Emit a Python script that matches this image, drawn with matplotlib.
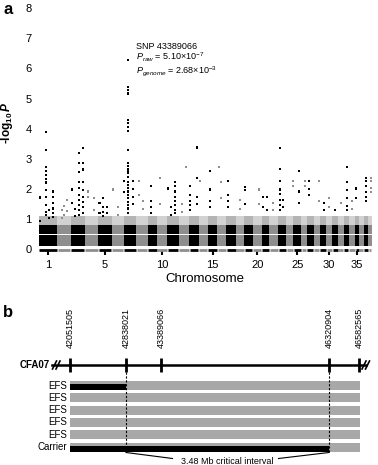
import numpy as np
import matplotlib
matplotlib.use('Agg')
import matplotlib.pyplot as plt

plt.rcParams['font.family'] = ['Liberation Sans', 'DejaVu Sans']
plt.rcParams['mathtext.fontset'] = 'custom'
plt.rcParams['mathtext.rm'] = 'Liberation Sans'
plt.rcParams['mathtext.it'] = 'Liberation Sans:italic'
plt.rcParams['mathtext.bf'] = 'Liberation Sans:bold'
plt.rcParams['mathtext.bfit'] = 'Liberation Sans:bold:italic'

#
# Data
#

## CFA1-38 lengths (Mb)
chrom_len = [125.6, 88.4, 94.7, 91.5, 92.0, 80.8, 84.0, 77.3, 61.3, 69.3,
             75.0, 72.5, 63.9, 60.9, 64.7, 59.6, 64.8, 55.8, 58.0, 58.6,
             51.0, 61.4, 53.0, 48.1, 51.7, 39.0, 45.9, 41.9, 41.8, 40.2,
             39.9, 39.0, 33.4, 42.1, 26.5, 30.8, 31.0, 23.9]
chrom_ticks = [1, 5, 10, 15, 20, 25, 30, 35]

## bulk of the SNPs (-log10 P ranges of the dense bands)
dense_band = [(0.12, 0.47), (0.51, 0.81)]
sparse_band = (0.81, 1.12)

## SNP stacks above the bulk: chromosome, position (Mb), -log10 P values
stack_chr = [1, 1, 1, 1, 2, 2, 2, 3, 3, 3,
             3, 4, 4, 5, 5, 5, 6, 6, 7, 7,
             7, 8, 8, 9, 10, 11, 11, 11, 12, 12,
             13, 13, 14, 15, 16, 16, 17, 18, 19, 20,
             21, 21, 22, 23, 23, 24, 25, 26, 27, 28,
             29, 30, 31, 32, 33, 34, 35, 37, 38]
stack_pos = [49, 9, 94, 69, 31, 44, 65, 10, 55, 82,
             30, 23, 65, 9, 30, 59, 8, 41, 25.5, 1,
             61, 19.5, 44, 21, 22, 2.6, 54, 25, 51, 24,
             4, 50, 8.4, 15, 12.7, 24, 9.5, 27, 7, 43,
             8, 36.5, 26, 12, 32, 44, 40, 27, 15, 38,
             28, 20, 20, 20, 19.7, 22, 7, 16.7, 19]
stack_logp = [
    [3.90, 3.30, 2.74, 2.61, 2.47, 2.33, 2.22, 1.97, 1.75, 1.47, 1.25, 1.14],
    [1.72, 0.95],
    [1.92, 1.75, 1.53, 1.36, 1.20, 1.09],
    [1.30, 1.05],
    [1.30, 1.05],
    [1.45, 1.15],
    [1.64, 1.28],
    [1.99, 1.53],
    [3.21, 2.86, 2.58, 2.25, 2.03, 1.80, 1.64, 1.47, 1.31, 1.14],
    [3.35, 2.86, 2.65, 2.25, 1.97, 1.75, 1.58, 1.42, 1.20],
    [1.35, 1.10],
    [1.92, 1.75],
    [1.70, 1.30],
    [1.53, 1.20],
    [1.70, 1.40, 1.25, 1.10],
    [1.40, 1.20],
    [1.99],
    [1.42, 1.15],
    [6.29, 5.37, 5.28, 5.17, 4.29, 4.18, 4.07, 3.93, 3.30, 2.86, 2.76, 2.65,
     2.55, 2.40, 2.25, 2.14, 2.03, 1.92, 1.80, 1.70, 1.58, 1.47, 1.36, 1.20],
    [2.27, 1.90],
    [2.27, 2.00, 1.75, 1.50],
    [2.27, 1.80],
    [1.60, 1.35],
    [2.09, 1.60, 1.40, 1.20],
    [2.37, 1.50],
    [2.02],
    [2.25, 2.09, 1.92, 1.75, 1.60, 1.47, 1.31, 1.20],
    [1.40, 1.15],
    [2.74],
    [1.50, 1.25],
    [2.09, 1.80, 1.60, 1.47, 1.31],
    [3.38, 2.38, 1.75, 1.50],
    [2.27],
    [2.61, 1.99, 1.60, 1.40],
    [2.74],
    [2.25, 1.70],
    [2.27, 1.80, 1.60, 1.40],
    [1.65, 1.35],
    [2.06, 1.97, 1.50],
    [1.99, 1.50],
    [1.73, 1.40],
    [1.73, 1.30],
    [1.55, 1.30],
    [3.37, 2.67, 2.27, 1.99, 1.85, 1.64, 1.47, 1.31],
    [1.64, 1.40],
    [2.27, 2.09],
    [2.61, 1.92, 1.55],
    [2.27, 2.09],
    [2.27, 2.00, 1.80],
    [2.27, 1.60],
    [1.55, 1.30],
    [1.70, 1.40],
    [1.30],
    [1.55],
    [2.74, 2.25, 1.97, 1.70, 1.45, 1.30],
    [1.60, 1.35],
    [2.02, 1.70],
    [2.38, 2.27, 2.10, 1.90, 1.75, 1.60],
    [2.38, 2.27, 2.05, 1.90],
]

## top SNP annotation
top_snp = 'SNP 43389066'
p_raw = r'$P_{raw}$ = 5.10×10$^{-7}$'
p_genome = r'$P_{genome}$ = 2.68×10$^{-3}$'

## haplotypes on CFA07
markers = ['42051505', '42838021', '43389066', '46320904', '46582565']
hap_labels = ['EFS', 'EFS', 'EFS', 'EFS', 'EFS', 'Carrier']
hap_black = [(0, 1), None, None, None, None, (0, 3)]   # marker span of black segment
interval_span = (1, 3)
interval_text = '3.48 Mb critical interval'

#
# Colours / layout
#
black = '#000000'
grey = '#8e8e8e'
bar_grey = '#a8a8a8'
W, H = 378, 465

starts = np.concatenate([[0], np.cumsum(chrom_len)[:-1]])
ends = starts + np.array(chrom_len)
centers = (starts + ends) / 2
is_odd = [(i + 1) % 2 == 1 for i in range(len(chrom_len))]
chr_col = [black if o else grey for o in is_odd]
sparse_col = ['#b4b4b4' if o else '#d2d2d2' for o in is_odd]

fig = plt.figure(figsize=(W/100, H/100), dpi=100)

#
# Panel a
#
ax_top, ax_bot, ax_l, ax_r = 5, 251, 36, 373
ax = fig.add_axes([ax_l/W, 1 - ax_bot/H, (ax_r-ax_l)/W, (ax_bot-ax_top)/H])
ax.set_xlim(-18.2, 2247.6)
ax.set_ylim(-0.05, 8.1)

ax.bar(centers, sparse_band[1] - sparse_band[0], width=chrom_len,
       bottom=sparse_band[0], color=sparse_col, linewidth=0)
for lo, hi in dense_band:
    ax.bar(centers, hi - lo, width=chrom_len, bottom=lo, color=chr_col,
           linewidth=0)
for s, e, c in zip(starts, ends, chr_col):
    ax.plot([s + 3, e - 3], [-0.01, -0.01], color=c, lw=2, clip_on=False,
            solid_capstyle='butt')

sx, sy, sc = [], [], []
for c, p, vals in zip(stack_chr, stack_pos, stack_logp):
    for v in vals:
        sx.append(starts[c-1] + p)
        sy.append(v)
        sc.append(chr_col[c-1])
ax.scatter(sx, sy, s=2.4, marker='s', c=sc, linewidths=0)

for sp in ax.spines.values():
    sp.set_visible(False)
ax.set_yticks(range(9))
ax.tick_params(axis='y', length=0, pad=3, labelsize=8)
ax.set_xticks(centers[[c-1 for c in chrom_ticks]])
ax.set_xticklabels([str(c) for c in chrom_ticks])
ax.tick_params(axis='x', length=3, width=1.5, pad=3.5, labelsize=8)
for t, c in zip(ax.xaxis.get_major_ticks(), chrom_ticks):
    t.tick1line.set_color(chr_col[c-1])
ax.set_xlabel('Chromosome', fontsize=9.5, labelpad=2.5)
ax.set_ylabel(r'-log$_{\mathbf{10}}\,\mathbfit{P}$', fontsize=8.5,
              fontweight='bold')
ax.yaxis.set_label_coords(-0.062, 0.52)

ax.text(654, (249.5 - 41.5) / 30.2, '\n'.join([top_snp, p_raw, p_genome]),
        fontsize=6.5, va='top', linespacing=1.0)

#
# Panel b (schematic, pixel layout)
#
bx = fig.add_axes([0, 0, 1, 180/H])
bx.set_xlim(0, W)
bx.set_ylim(H, H - 180)
bx.axis('off')

marker_x = [70, 126, 161, 329, 359]
line_y = 365
row_top, row_pitch, row_h = 381, 12.3, 9

for m, x in zip(markers, marker_x):
    bx.text(x, 348, m, rotation=90, ha='center', va='bottom', fontsize=6.5)
    bx.plot([x, x], [358, 372], color=black, lw=2, solid_capstyle='butt')
bx.plot([52, 366], [line_y, line_y], color=black, lw=1.8)
for x in [54.5, 58, 364, 367.5]:
    bx.plot([x - 2, x + 2], [line_y + 4, line_y - 4], color=black, lw=1.2)
bx.text(50, line_y, 'CFA07', ha='right', va='center', fontsize=7,
        fontweight='bold')

for i, (lab, blk) in enumerate(zip(hap_labels, hap_black)):
    y0 = row_top + i * row_pitch
    bx.add_patch(plt.Rectangle((marker_x[0], y0), marker_x[-1] + 1 - marker_x[0],
                               row_h, color=bar_grey, lw=0))
    if blk:
        x0, x1 = marker_x[blk[0]], marker_x[blk[1]]
        bx.add_patch(plt.Rectangle((x0, y0 + 3.4), x1 - x0, row_h - 3.4,
                                   color=black, lw=0))
    bx.text(67, y0 + row_h/2, lab, ha='right', va='center', fontsize=7)

i0, i1 = interval_span
bottom = row_top + 5 * row_pitch + row_h + 1
for x in (marker_x[i0], marker_x[i1]):
    bx.plot([x, x], [372, bottom], color=black, lw=0.8, ls=(0, (2, 1.5)))
mid = (marker_x[i0] + marker_x[i1]) / 2
bx.plot([marker_x[i0], mid - 55], [bottom, bottom + 6], color=black, lw=0.8)
bx.plot([marker_x[i1], mid + 51], [bottom, bottom + 6], color=black, lw=0.8)
bx.text(mid, bottom + 8.5, interval_text, ha='center', va='center', fontsize=6.5)

# panel letters
fig.text(8/W, 1 - 9/H, 'a', fontsize=12, fontweight='bold', ha='center', va='center')
fig.text(8/W, 1 - 312/H, 'b', fontsize=12, fontweight='bold', ha='center', va='center')

plt.savefig('out.png', dpi=100)
